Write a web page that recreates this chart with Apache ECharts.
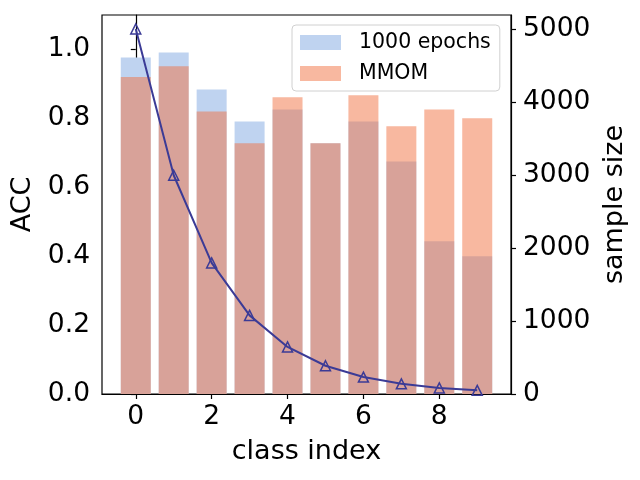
<!DOCTYPE html>
<html>
<head>
<meta charset="utf-8">
<script src="https://cdn.jsdelivr.net/npm/echarts@6/dist/echarts.min.js"></script>
<style>html,body{margin:0;padding:0;background:#fff;}#c{width:640px;height:480px;}</style>
</head>
<body>
<div id="c"></div>
<script>
const classIndex = [0, 1, 2, 3, 4, 5, 6, 7, 8, 9];
const acc1000 = [0.977, 0.991, 0.884, 0.791, 0.826, 0.728, 0.791, 0.675, 0.443, 0.400];
const accMMOM = [0.920, 0.951, 0.820, 0.728, 0.861, 0.728, 0.867, 0.777, 0.826, 0.800];
const sampleSize = [5000, 2997, 1796, 1077, 645, 387, 232, 139, 83, 50];
const xTicks = [0, 2, 4, 6, 8];
const accTicks = [0, 0.2, 0.4, 0.6, 0.8, 1.0];
const sizeTicks = [0, 1000, 2000, 3000, 4000, 5000];

const FONT = 'DejaVu Sans';
const chart = echarts.init(document.getElementById('c'));
const pair = (ys) => classIndex.map((x, i) => [x, ys[i]]);

chart.setOption({
  animation: false,
  textStyle: { fontFamily: FONT },
  grid: { left: 102, right: 129, top: 15, bottom: 86, show: true, borderColor: '#000', borderWidth: 1.2, backgroundColor: 'transparent' },
  legend: {
    data: ['1000 epochs', 'MMOM'],
    icon: 'rect',
    orient: 'vertical',
    left: 292, top: 25,
    padding: [7, 9, 7, 8],
    itemWidth: 41, itemHeight: 15, itemGap: 10,
    borderColor: '#d0d0d0', borderWidth: 1, borderRadius: 4,
    backgroundColor: 'rgba(255,255,255,0.8)',
    textStyle: { fontFamily: FONT, fontSize: 20.5, color: '#000', padding: [0, 0, 0, 13] }
  },
  xAxis: {
    type: 'value', min: -0.89, max: 9.89,
    name: 'class index', nameLocation: 'middle', nameGap: 44,
    nameTextStyle: { fontFamily: FONT, fontSize: 27, color: '#000' },
    axisLine: { show: true, lineStyle: { color: '#000', width: 1.2 } },
    axisTick: { show: true, length: 5, customValues: xTicks, lineStyle: { color: '#000', width: 1.2 } },
    axisLabel: { customValues: xTicks, fontFamily: FONT, fontSize: 26.5, color: '#000', margin: 10 },
    splitLine: { show: false }
  },
  yAxis: [
    {
      type: 'value', min: 0, max: 1.1, position: 'left',
      name: 'ACC', nameLocation: 'middle', nameGap: 57, nameRotate: 90,
      nameTextStyle: { fontFamily: FONT, fontSize: 27, color: '#000' },
      axisLine: { show: true, lineStyle: { color: '#000', width: 1.2 } },
      axisTick: { show: true, length: 5, customValues: accTicks, lineStyle: { color: '#000', width: 1.2 } },
      axisLabel: { customValues: accTicks, fontFamily: FONT, fontSize: 26.5, color: '#000', margin: 12,
        formatter: (v) => v.toFixed(1) },
      splitLine: { show: false }
    },
    {
      type: 'value', min: 0, max: 5192, position: 'right',
      name: 'sample size', nameLocation: 'middle', nameGap: 82, nameRotate: 90,
      nameTextStyle: { fontFamily: FONT, fontSize: 27, color: '#000' },
      axisLine: { show: true, lineStyle: { color: '#000', width: 1.2 } },
      axisTick: { show: true, length: 5, customValues: sizeTicks, lineStyle: { color: '#000', width: 1.2 } },
      axisLabel: { customValues: sizeTicks, fontFamily: FONT, fontSize: 26.5, color: '#000', margin: 12,
        formatter: (v) => String(v) },
      splitLine: { show: false }
    }
  ],
  series: [
    {
      name: '1000 epochs', type: 'bar', yAxisIndex: 0, barWidth: 30, barGap: '-100%',
      itemStyle: { color: '#bfd3f0' },
      data: pair(acc1000), z: 2
    },
    {
      name: 'MMOM', type: 'bar', yAxisIndex: 0, barWidth: 30, barGap: '-100%',
      itemStyle: { color: 'rgba(241,113,65,0.5)' },
      data: pair(accMMOM), z: 3
    },
    {
      name: 'sample size', type: 'line', yAxisIndex: 1,
      symbol: 'triangle', symbolSize: 10,
      lineStyle: { color: '#3b3b96', width: 2 },
      itemStyle: { color: 'rgba(0,0,0,0)', borderColor: '#3b3b96', borderWidth: 1.5 },
      data: pair(sampleSize), z: 5
    }
  ]
});
</script>
</body>
</html>
